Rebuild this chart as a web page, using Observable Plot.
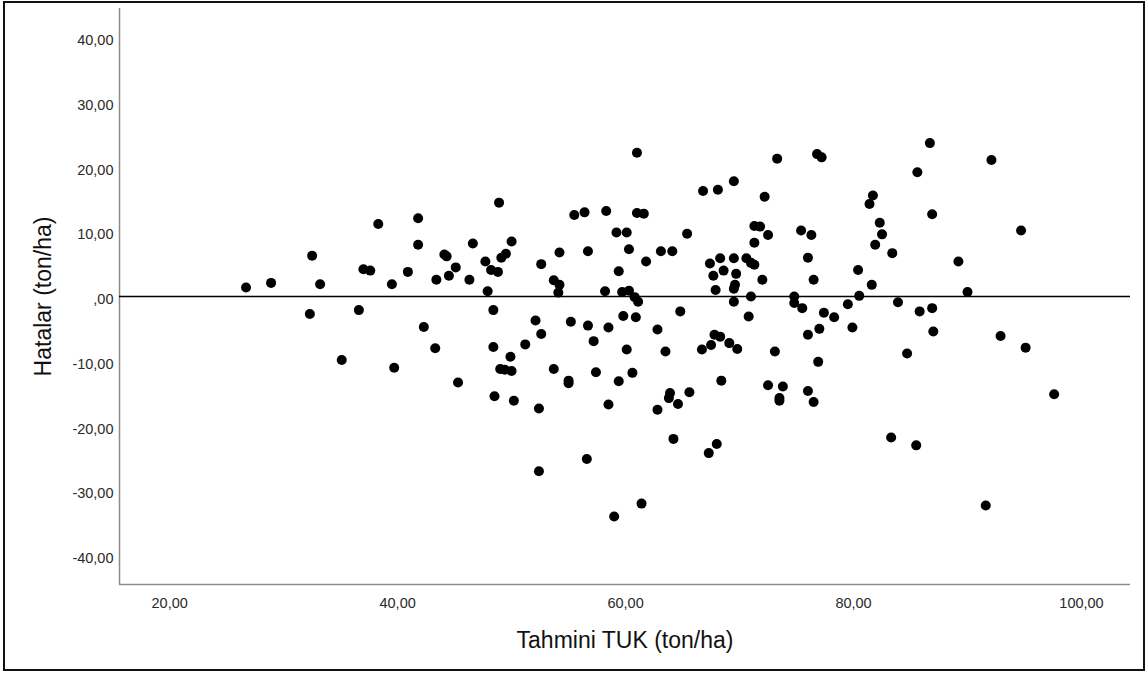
<!DOCTYPE html>
<html>
<head>
<meta charset="utf-8">
<script src="https://cdn.jsdelivr.net/npm/d3@7"></script>
<script src="https://cdn.jsdelivr.net/npm/@observablehq/plot@0.6"></script>
<style>
  html, body { margin: 0; padding: 0; background: #fff; }
  #wrap { position: relative; width: 1148px; height: 673px; overflow: hidden; }
  #border { position: absolute; left: 3px; top: 1px; width: 1142px; height: 670px;
            box-sizing: border-box; border: 2px solid #111; pointer-events: none; }
</style>
</head>
<body>
<div id="wrap"><div id="border"></div></div>
<script>
// Tahmini TUK (ton/ha) — x values
const tahmini = [
  26.7, 28.9, 32.5, 33.2, 32.3, 36.6, 38.3, 37.0, 37.6, 39.5,
  41.8, 41.8, 40.9, 42.3, 44.1, 44.3, 45.1, 43.4, 44.5,
  43.3, 35.1, 39.7, 45.3,
  61.0, 48.9, 46.6, 50.0, 47.7, 49.1, 49.5, 48.2, 48.8, 46.3,
  47.9, 48.4, 52.6, 54.2, 53.7, 54.2, 54.1, 55.5, 56.4, 56.7,
  58.3, 59.2, 60.1, 60.3, 61.0, 61.6, 59.4, 61.8, 63.1, 64.1,
  65.4, 58.2, 59.7, 60.3, 60.8, 61.1, 59.8, 60.9, 64.8, 52.1,
  55.2, 56.7, 58.5, 62.8,
  52.6, 48.4, 51.2, 49.9, 49.0, 49.4, 50.0, 48.5, 50.2, 52.4,
  53.7, 55.0, 55.0, 57.2, 57.4, 59.4, 60.6, 60.1, 63.5, 58.5,
  62.8, 63.9, 63.8, 64.6, 64.2, 56.6, 52.4, 61.4, 59.0,
  73.3, 76.8, 77.2, 66.8, 68.1, 69.5, 72.2, 71.3, 71.8, 72.5,
  71.3, 67.4, 68.3, 69.5, 70.6, 71.0, 71.3, 67.7, 68.6, 69.7,
  67.9, 69.6, 69.5, 72.0, 71.0, 69.5, 70.8, 75.4, 76.3, 76.0,
  76.5, 74.8, 74.8, 75.5, 77.4, 78.3, 79.5, 80.5, 80.4, 81.6,
  81.7, 81.4, 82.3, 82.5, 81.9, 83.4, 83.9,
  67.8, 68.3, 69.1, 66.7, 67.5, 69.8, 73.1, 68.4, 65.6, 72.5,
  73.8, 73.5, 73.5, 76.0, 76.5, 76.0, 77.0, 79.9, 76.9, 84.7,
  68.0, 67.3, 83.3,
  86.7, 92.1, 85.6, 86.9, 94.7, 89.2, 90.0, 85.8, 86.9,
  87.0, 92.9, 95.1, 97.6, 85.5, 91.6
];
// Hatalar (ton/ha) — y values
const hatalar = [
  1.4, 2.1, 6.3, 1.9, -2.7, -2.1, 11.2, 4.2, 4.0, 1.9,
  12.1, 8.0, 3.8, -4.7, 6.5, 6.2, 4.5, 2.6, 3.2,
  -8.0, -9.8, -11.0, -13.3,
  22.2, 14.5, 8.2, 8.5, 5.4, 6.0, 6.6, 4.1, 3.8, 2.6,
  0.8, -2.1, 5.0, 6.8, 2.5, 1.8, 0.6, 12.6, 13.0, 7.0,
  13.2, 9.9, 9.9, 7.3, 12.9, 12.8, 3.9, 5.4, 7.0, 7.0,
  9.7, 0.8, 0.7, 0.9, -0.1, -0.8, -3.0, -3.2, -2.3, -3.7,
  -3.9, -4.5, -4.8, -5.1,
  -5.8, -7.8, -7.4, -9.3, -11.2, -11.3, -11.5, -15.4, -16.1, -17.3,
  -11.2, -13.0, -13.4, -6.9, -11.7, -13.1, -11.8, -8.2, -8.5, -16.7,
  -17.5, -14.9, -15.7, -16.6, -22.0, -25.1, -27.0, -32.0, -34.0,
  21.3, 22.0, 21.5, 16.3, 16.5, 17.8, 15.4, 10.9, 10.8, 9.5,
  8.3, 5.1, 5.9, 5.9, 5.9, 5.2, 4.9, 3.2, 4.0, 3.5,
  1.0, 1.8, 1.2, 2.6, 0.0, -0.8, -3.1, 10.2, 9.5, 6.0,
  2.6, 0.0, -1.0, -1.8, -2.5, -3.2, -1.2, 0.1, 4.1, 1.8,
  15.6, 14.3, 11.4, 9.6, 8.0, 6.7, -0.9,
  -5.9, -6.2, -7.2, -8.2, -7.5, -8.1, -8.5, -13.0, -14.8, -13.7,
  -13.9, -15.7, -16.1, -14.6, -16.3, -5.9, -5.0, -4.8, -10.1, -8.8,
  -22.8, -24.2, -21.8,
  23.7, 21.1, 19.2, 12.7, 10.2, 5.4, 0.7, -2.3, -1.8,
  -5.4, -6.1, -7.9, -15.1, -23.0, -32.3
];
const xTicks = [20, 40, 60, 80, 100];
const yTicks = [-40, -30, -20, -10, 0, 10, 20, 30, 40];
const xDomain = [15.6, 104.3];
const yDomain = [-44.5, 44.5];
const xTitle = "Tahmini TUK (ton/ha)";
const yTitle = "Hatalar (ton/ha)";

const fmt = d => d === 0 ? ",00" : d.toFixed(2).replace(".", ",");
const idx = d3.range(tahmini.length);

const chart = Plot.plot({
  width: 1148,
  height: 673,
  marginLeft: 119,
  marginRight: 18,
  marginTop: 8,
  marginBottom: 89,
  style: { fontFamily: "'Liberation Sans', Arial, sans-serif", fontSize: "14.5px", color: "#222", background: "transparent" },
  x: { domain: xDomain },
  y: { domain: yDomain },
  marks: [
    Plot.axisX(xTicks, { tickSize: 0, tickPadding: 13, tickFormat: fmt, label: null, fill: "#2a2a2a" }),
    Plot.axisY(yTicks, { tickSize: 0, tickPadding: 6, tickFormat: fmt, label: null, dy: 3, fill: "#2a2a2a" }),
    Plot.ruleX([xDomain[0]], { stroke: "#8c8c8c", strokeWidth: 1.5 }),
    Plot.ruleY([yDomain[0]], { stroke: "#8c8c8c", strokeWidth: 1.5 }),
    Plot.ruleY([0], { stroke: "#000", strokeWidth: 1.3 }),
    Plot.dot(idx, { x: i => tahmini[i], y: i => hatalar[i], r: 5, fill: "#000", stroke: null }),
    Plot.text([xTitle], { frameAnchor: "bottom", dy: 56, fontSize: 23, fill: "#111", textAnchor: "middle", lineAnchor: "middle" }),
    Plot.text([yTitle], { frameAnchor: "left", dx: -76, rotate: -90, fontSize: 23, fill: "#111", textAnchor: "middle", lineAnchor: "middle" })
  ]
});
document.getElementById("wrap").prepend(chart);
</script>
</body>
</html>
